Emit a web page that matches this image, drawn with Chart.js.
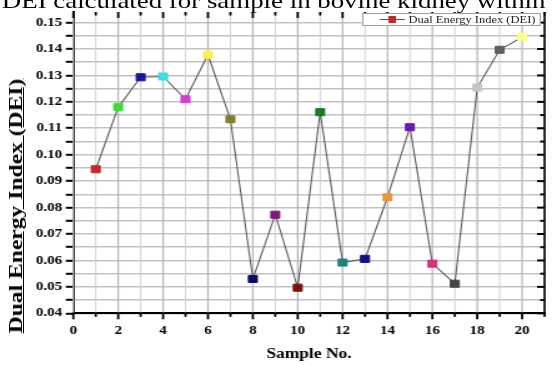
<!DOCTYPE html>
<html>
<head>
<meta charset="utf-8">
<script src="https://cdn.jsdelivr.net/npm/chart.js@4.4.1/dist/chart.umd.min.js"></script>
<style>
  html, body { margin: 0; padding: 0; background: #fff; overflow: hidden; }
  body { width: 552px; height: 365px; position: relative; }
  /* source image is stretched horizontally, so the whole plot is too */
  #wrap { position: absolute; left: 0; top: 0; width: 442px; height: 365px;
          transform: scaleX(1.249); transform-origin: 0 0; }
  #chart { position: absolute; left: 0; top: 0; }
  #title { position: absolute; left: 1.5px; top: -9px; white-space: nowrap;
           font: 21.5px/21.5px "Liberation Serif", serif; color: #000; }
  #legend { position: absolute; left: 290px; top: 12.5px; width: 143px; height: 13px;
            border: 1px solid #a0a0a0; background: #fff; box-sizing: border-box;
            font: 10px/12px "Liberation Serif", serif; color: #222; white-space: nowrap; }
  #legend .ln { position: absolute; left: 13px; top: 5.5px; width: 20px; height: 1px; background: #555; }
  #legend .mk { position: absolute; left: 20px; top: 2.5px; width: 6px; height: 7px; background: #c62828; }
  #legend .tx { position: absolute; left: 36px; top: 0px; }
  #ytitle { position: absolute; left: 16px; top: 206px; white-space: nowrap;
            font: bold 19px "Liberation Serif", serif; color: #000; text-decoration: underline;
            transform: translate(-50%, -50%) rotate(-90deg) scaleX(1.24); }
</style>
</head>
<body>
<div id="wrap">
  <canvas id="chart" width="442" height="365"></canvas>
  <div id="title">DEI calculated for sample in bovine kidney within</div>
  <div id="legend"><span class="ln"></span><span class="mk"></span><span class="tx">Dual Energy Index (DEI)</span></div>
</div>
<div id="ytitle">Dual Energy Index (DEI)</div>
<script>
// Datos
const samples = [1, 2, 3, 4, 5, 6, 7, 8, 9, 10, 11, 12, 13, 14, 15, 16, 17, 18, 19, 20];
const dei = [0.0945, 0.118, 0.1293, 0.1296, 0.121, 0.1378, 0.1134, 0.053, 0.0773, 0.0497,
             0.1161, 0.0592, 0.0606, 0.0839, 0.1104, 0.0588, 0.0512, 0.1254, 0.1397, 0.1445];
const xTickLabels = ['0', '2', '4', '6', '8', '10', '12', '14', '16', '18', '20'];
const yTickLabels = ['0.04', '0.05', '0.06', '0.07', '0.08', '0.09', '0.10', '0.11', '0.12', '0.13', '0.14', '0.15'];

const pointColors = ['#c62828', '#3ddc3d', '#16169a', '#40dede', '#d63cd6', '#fff04a', '#7f7f2a',
  '#0a0a6e', '#7a1a7a', '#7a1010', '#1e7a1e', '#1f8080', '#10108a', '#e8963a', '#6a1ab0',
  '#d8307a', '#454545', '#c4c4c4', '#606060', '#ffff80'];

const font = 'Liberation Serif';
const isMajorY = v => yTickLabels.includes(v.toFixed(2)) && Math.abs(v - parseFloat(v.toFixed(2))) < 1e-6;

// major ticks from the labels, a minor one half way between
const yTicks = [];
yTickLabels.forEach((l, i) => {
  yTicks.push({ value: parseFloat(l) });
  if (i < yTickLabels.length - 1) yTicks.push({ value: parseFloat(l) + 0.005 });
});

// vertical grid, x ticks and the right/top frame ticks
const frame = {
  id: 'frame',
  beforeDatasetsDraw(chart) {
    const { ctx, chartArea: a, scales } = chart;
    const xs = scales.x, ys = scales.y;
    const h = a.bottom - a.top;
    ctx.save();
    [false, true].forEach(major => {
      xs.ticks.forEach(t => {
        if ((t.value % 2 === 0) !== major) return;
        const x = xs.getPixelForValue(t.value);
        ctx.fillStyle = major ? '#b8b8b8' : '#d2d2d2';
        const lw = major ? 1.3 : 1;
        ctx.fillRect(x - lw / 2, a.top, lw, h);
      });
    });
    ctx.fillStyle = '#000';
    ctx.fillRect(a.right - 0.8, a.top, 1.6, h);
    ys.ticks.forEach((t, i) => {
      const y = ys.getPixelForTick(i);
      const len = isMajorY(t.value) ? 6 : 3.5;
      ctx.fillRect(a.right - len, y - 1, len, 2);
    });
    xs.ticks.forEach(t => {
      const x = xs.getPixelForValue(t.value);
      const len = t.value % 2 === 0 ? 6 : 3.5;
      ctx.fillRect(x - 0.9, a.bottom - 1, 1.8, len + 1);
      ctx.fillRect(x - 0.9, a.top, 1.8, len);
    });
    ctx.restore();
  }
};

new Chart(document.getElementById('chart'), {
  type: 'line',
  data: {
    datasets: [{
      label: 'Dual Energy Index (DEI)',
      data: samples.map((s, i) => ({ x: s, y: dei[i] })),
      borderColor: '#5a5a5a',
      borderWidth: 1.1,
      tension: 0,
      pointStyle: 'rect',
      pointRadius: 5,
      pointHoverRadius: 5,
      pointBackgroundColor: pointColors,
      pointBorderColor: pointColors,
      pointBorderWidth: 1
    }]
  },
  options: {
    responsive: false,
    animation: false,
    devicePixelRatio: 1,
    layout: { padding: { top: 12, right: 1, left: 0, bottom: 0 } },
    plugins: { legend: { display: false }, tooltip: { enabled: false } },
    scales: {
      x: {
        type: 'linear', min: 0, max: 21,
        afterFit: s => { s.height = 51.7; },
        ticks: {
          stepSize: 1, autoSkip: false, maxRotation: 0, padding: 4, color: '#000',
          font: { family: font, size: 12, weight: 'bold' },
          callback: v => xTickLabels.includes(String(v)) ? String(v) : ''
        },
        grid: { drawOnChartArea: false, tickLength: 6, tickColor: 'rgba(0,0,0,0)' },
        border: { color: '#000', width: 2 },
        title: {
          display: true, text: 'Sample No.', color: '#000',
          font: { family: font, size: 14, weight: 'bold' }, padding: { top: 0, bottom: 2 }
        }
      },
      y: {
        type: 'linear', min: 0.04, max: 0.154,
        afterFit: s => { s.width = 58.7; },
        afterBuildTicks: s => { s.ticks = yTicks.map(t => ({ value: t.value })); },
        ticks: {
          autoSkip: false, padding: 3, color: '#000',
          font: { family: font, size: 12, weight: 'bold' },
          callback: v => isMajorY(v) ? v.toFixed(2) : ''
        },
        grid: {
          display: true, drawOnChartArea: true, drawTicks: true,
          color: '#c2c2c2', lineWidth: 1.6,
          tickLength: 6, tickColor: '#000', tickWidth: 2
        },
        border: { color: '#000', width: 2 }
      }
    }
  },
  plugins: [frame]
});
</script>
</body>
</html>
